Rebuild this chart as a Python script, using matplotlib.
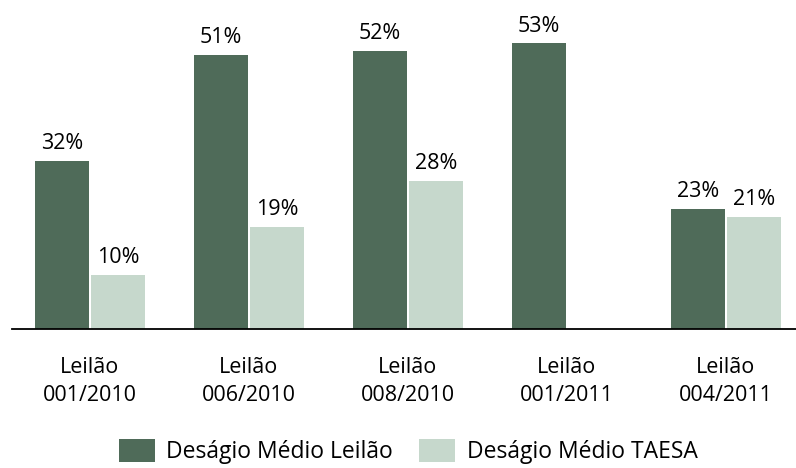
import numpy as np
import matplotlib.pyplot as plt

categories = ["Leilão\n001/2010", "Leilão\n006/2010", "Leilão\n008/2010",
              "Leilão\n001/2011", "Leilão\n004/2011"]
desagio_leilao = [32.0, 52.2, 53.0, 54.4, 22.9]
desagio_taesa = [10.3, 19.4, 28.2, np.nan, 21.3]
labels_leilao = ["32%", "51%", "52%", "53%", "23%"]
labels_taesa = ["10%", "19%", "28%", "", "21%"]

dark = "#4F6B59"
light = "#C6D8CC"

def main():
    plt.rcParams['font.family'] = ['Open Sans', 'DejaVu Sans']
    fs = 15.5
    fig = plt.figure(figsize=(7.96, 4.68), dpi=100)
    ax = fig.add_axes([0.0, 1 - 329 / 468, 1.0, 329 / 468])

    x = np.arange(len(categories))
    w = 0.345
    off = 0.176
    b1 = ax.bar(x - off, desagio_leilao, w, color=dark, label="Deságio Médio Leilão")
    b2 = ax.bar(x + off, desagio_taesa, w, color=light, label="Deságio Médio TAESA")

    for rect, lab in zip(b1, labels_leilao):
        ax.text(rect.get_x() + rect.get_width() / 2, rect.get_height() + 1.3, lab,
                ha='center', va='bottom', fontsize=fs)
    for rect, lab in zip(b2, labels_taesa):
        if lab:
            ax.text(rect.get_x() + rect.get_width() / 2, rect.get_height() + 1.3, lab,
                    ha='center', va='bottom', fontsize=fs)

    ax.set_xlim(-90 / 159, (796 - 90) / 159)
    ax.set_ylim(0, 329 / 5.25)
    for s in ['top', 'right', 'left']:
        ax.spines[s].set_visible(False)
    ax.spines['bottom'].set_bounds(-78 / 159, (796 - 90) / 159)
    ax.spines['bottom'].set_linewidth(1.3)
    ax.set_yticks([])
    ax.set_xticks(x)
    ax.set_xticklabels(categories, fontsize=fs, linespacing=1.45)
    ax.tick_params(axis='x', length=0, pad=20)

    fig.legend(loc='lower left', bbox_to_anchor=(0.123, -0.036), ncol=2, frameon=False,
               fontsize=16.5, handlelength=1.57, handleheight=1.2, columnspacing=1.13,
               handletextpad=0.52)
    fig.savefig("out.png", dpi=100)

main()
